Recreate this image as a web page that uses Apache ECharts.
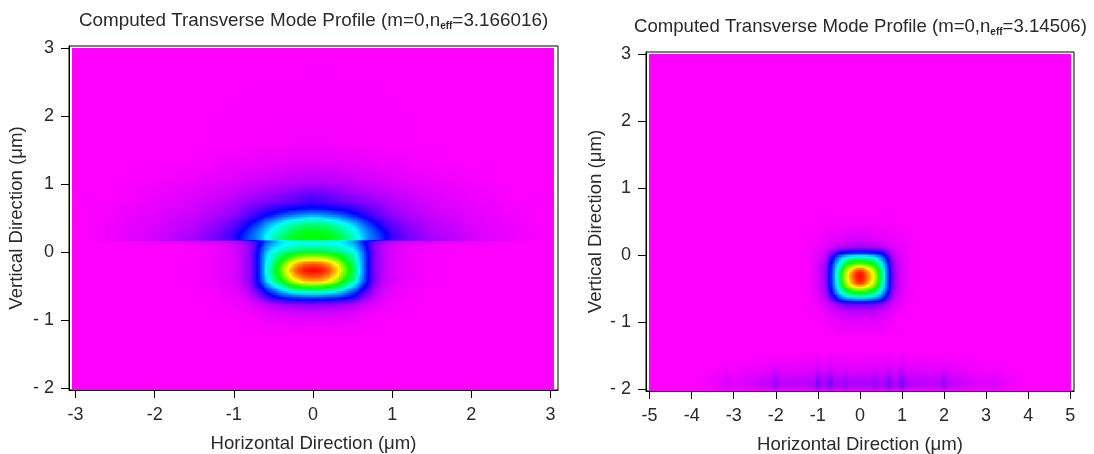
<!DOCTYPE html>
<html><head><meta charset="utf-8">
<style>html,body{margin:0;padding:0;background:#fff}#c{width:1094px;height:454px}</style>
<script src="https://cdn.jsdelivr.net/npm/echarts@6/dist/echarts.min.js"></script>
</head><body><div id="c"></div>
<script>
const leftXMajor=[-3,-2,-1,0,1,2,3];
const leftXMinor=[-2.8,-2.6,-2.4,-2.2,-1.8,-1.6,-1.4,-1.2,-0.8,-0.6,-0.4,-0.2,0.2,0.4,0.6,0.8,1.2,1.4,1.6,1.8,2.2,2.4,2.6,2.8];
const yMajor=[-2,-1,0,1,2,3];
const yMinor=[-1.8,-1.6,-1.4,-1.2,-0.8,-0.6,-0.4,-0.2,0.2,0.4,0.6,0.8,1.2,1.4,1.6,1.8,2.2,2.4,2.6,2.8];
const rightXMajor=[-5,-4,-3,-2,-1,0,1,2,3,4,5];
const rightXMinor=[-4.5,-3.5,-2.5,-1.5,-0.5,0.5,1.5,2.5,3.5,4.5];

const leftXs=[-3.04,-2.5,-2,-1.5,-1.2,-1,-.9,-.8,-.75,-.7,-.65,-.6,-.5,-.4,-.3,-.2,-.1,0,.1,.2,.3,.4,.5,.6,.65,.7,.75,.8,.9,1,1.2,1.5,2,2.5,3.04];
const leftYs=[3,1.6,1.4,1.2,1.05,.95,.85,.75,.65,.58,.52,.46,.4,.34,.28,.22,.18,.17,.16,.12,.05,-.02,-.1,-.18,-.26,-.34,-.42,-.5,-.58,-.66,-.72,-.8,-.9,-1.05,-1.3,-2.03];
const leftField=[
[0,0,0,0,0,0,0,0,0,0,0,0,0,0,0,0,0,0,0,0,0,0,0,0,0,0,0,0,0,0,0,0,0,0,0],
[0,0,0,0,.3,.4,.5,.5,.5,.5,.5,.6,.6,.7,.7,.8,.8,.8,.8,.8,.7,.7,.6,.6,.5,.5,.5,.5,.5,.4,.3,0,0,0,0],
[0,0,.2,.4,.7,.9,1,1.1,1.1,1.2,1.2,1.3,1.4,1.5,1.6,1.7,1.7,1.8,1.7,1.7,1.6,1.5,1.4,1.3,1.2,1.2,1.1,1.1,1,.9,.7,.4,.2,0,0],
[0,.1,.4,.9,1.4,1.8,2,2.2,2.3,2.4,2.5,2.7,2.9,3.1,3.3,3.5,3.6,3.7,3.6,3.5,3.3,3.1,2.9,2.7,2.5,2.4,2.3,2.2,2,1.8,1.4,.9,.4,.1,0],
[0,.2,.7,1.4,2.2,2.8,3.1,3.4,3.5,3.6,3.8,4,4.4,4.8,5.1,5.4,5.6,5.7,5.6,5.4,5.1,4.8,4.4,4,3.8,3.6,3.5,3.4,3.1,2.8,2.2,1.4,.7,.2,0],
[0,.3,1,2,3,3.7,4.2,4.6,4.8,5,5.2,5.5,6,6.7,7.3,7.9,8.4,8.6,8.4,7.9,7.3,6.7,6,5.5,5.2,5,4.8,4.6,4.2,3.7,3,2,1,.3,0],
[0,.4,1.2,2.4,3.6,4.7,5.3,5.9,6.2,6.5,6.8,7.2,8,9,9.9,10.8,11.5,12,11.5,10.8,9.9,9,8,7.2,6.8,6.5,6.2,5.9,5.3,4.7,3.6,2.4,1.2,.4,0],
[0,.6,1.5,3,4.5,6,7,8,8.3,8.7,9.2,9.7,10.5,11.5,12.5,13.5,14.5,15,14.5,13.5,12.5,11.5,10.5,9.7,9.2,8.7,8.3,8,7,6,4.5,3,1.5,.6,0],
[0,.8,2,3.6,5.4,7.3,9,11,11.5,12,13,14,16,17,18,19,20,20,20,19,18,17,16,14,13,12,11.5,11,9,7.3,5.4,3.6,2,.8,0],
[0,1,2.2,4,6,8,10,13,14,15,16,17,20,23,25,27,28,29,28,27,25,23,20,17,16,15,14,13,10,8,6,4,2.2,1,0],
[0,1,2.4,4.5,7,10,12,15,16,18,20,22,25,29,32,34,36,37,36,34,32,29,25,22,20,18,16,15,12,10,7,4.5,2.4,1,0],
[0,1.1,2.6,5,8,11,14,18,20,23,25,28,32,36,40,43,45,46,45,43,40,36,32,28,25,23,20,18,14,11,8,5,2.6,1.1,0],
[0,1.2,2.8,5.4,9,13,16,21,24,26,29,32,37,42,47,50,52,52,52,50,47,42,37,32,29,26,24,21,16,13,9,5.4,2.8,1.2,0],
[0,1.3,3,6,10,14,19,24,27,29,32,35,41,46,50,54,56,56,56,54,50,46,41,35,32,29,27,24,19,14,10,6,3,1.3,0],
[0,1.4,3.2,6.4,10,15,21,26,28,31,34,37,43,48,53,57,59,59,59,57,53,48,43,37,34,31,28,26,21,15,10,6.4,3.2,1.4,0],
[0,1.4,3.4,7,11,16,22,27,29,31,35,39,46,52,57,59,60,60,60,59,57,52,46,39,35,31,29,27,22,16,11,7,3.4,1.4,0],
[0,1.5,4,7,12,16,22,27,29,31,35,39,46,52,57,60,60,60,60,60,57,52,46,39,35,31,29,27,22,16,12,7,4,1.5,0],
[0,3,7,11,14,17,21,24,26,28,30,33,38,42,46,48,50,50,50,48,46,42,38,33,30,28,26,24,21,17,14,11,7,3,0],
[0,0,1,2,3,5,7,11,14,17,20,25,32,37,40,41,42,42,42,41,40,37,32,25,20,17,14,11,7,5,3,2,1,0,0],
[0,0,.2,1,2,4,6,9,12,17,22,28,34,38,41,42,42,42,42,42,41,38,34,28,22,17,12,9,6,4,2,1,.2,0,0],
[0,0,0,.5,1.4,3,5,9,13,19,26,31,39,43,46,48,50,50,50,48,46,43,39,31,26,19,13,9,5,3,1.4,.5,0,0,0],
[0,0,0,.4,1.3,3,5,9,14,20,28,34,44,51,56,60,62,63,62,60,56,51,44,34,28,20,14,9,5,3,1.3,.4,0,0,0],
[0,0,0,.4,1.3,3,5,9,14,20,29,36,48,58,68,75,79,80,79,75,68,58,48,36,29,20,14,9,5,3,1.3,.4,0,0,0],
[0,0,0,.4,1.3,3,5,9,14,20,29,37,51,64,78,87,92,93,92,87,78,64,51,37,29,20,14,9,5,3,1.3,.4,0,0,0],
[0,0,0,.4,1.3,3,5,9,14,20,29,38,54,68,84,94,99,100,99,94,84,68,54,38,29,20,14,9,5,3,1.3,.4,0,0,0],
[0,0,0,.4,1.3,3,5,9,14,20,29,37,52,65,80,90,95,96,95,90,80,65,52,37,29,20,14,9,5,3,1.3,.4,0,0,0],
[0,0,0,.4,1.3,3,5,9,14,20,27,34,47,57,70,79,85,86,85,79,70,57,47,34,27,20,14,9,5,3,1.3,.4,0,0,0],
[0,0,0,.3,1.1,2.4,4,8,12,17,22,28,38,47,57,63,66,67,66,63,57,47,38,28,22,17,12,8,4,2.4,1.1,.3,0,0,0],
[0,0,0,.2,.8,1.8,3,6,9,12,16,20,27,34,40,44,45,46,45,44,40,34,27,20,16,12,9,6,3,1.8,.8,.2,0,0,0],
[0,0,0,.1,.6,1.3,2.2,4,6,8,10,13,18,22,25,26,27,27,27,26,25,22,18,13,10,8,6,4,2.2,1.3,.6,.1,0,0,0],
[0,0,0,.1,.5,1,1.7,3,4,5,6,8,11,13,14,15,15,16,15,15,14,13,11,8,6,5,4,3,1.7,1,.5,.1,0,0,0],
[0,0,0,0,.4,.8,1.2,1.8,2.2,2.7,3.2,4,5,6,7,7.5,8,8,8,7.5,7,6,5,4,3.2,2.7,2.2,1.8,1.2,.8,.4,0,0,0,0],
[0,0,0,0,.2,.4,.6,.9,1.1,1.3,1.6,2,2.4,2.8,3.1,3.3,3.4,3.4,3.4,3.3,3.1,2.8,2.4,2,1.6,1.3,1.1,.9,.6,.4,.2,0,0,0,0],
[0,0,0,0,0,.1,.2,.3,.4,.5,.6,.7,.9,1,1.1,1.2,1.2,1.2,1.2,1.2,1.1,1,.9,.7,.6,.5,.4,.3,.2,.1,0,0,0,0,0],
[0,0,0,0,0,0,0,0,0,0,0,0,0,0,0,0,0,0,0,0,0,0,0,0,0,0,0,0,0,0,0,0,0,0,0],
[0,0,0,0,0,0,0,0,0,0,0,0,0,0,0,0,0,0,0,0,0,0,0,0,0,0,0,0,0,0,0,0,0,0,0]
];

const rightBackXs=[-5.02,5.03];
const rightBackYs=[3.01,-2.03];
const rightBack=[[0,0],[0,0]];

const rightXs=[-1.5,-1.2,-1,-.9,-.8,-.75,-.7,-.65,-.6,-.5,-.4,-.3,-.2,-.1,0,.1,.2,.3,.4,.5,.6,.65,.7,.75,.8,.9,1,1.2,1.5];
const rightYs=[.7,.4,.25,.15,.1,.05,0,-.05,-.1,-.15,-.2,-.25,-.32,-.4,-.45,-.5,-.55,-.6,-.65,-.7,-.75,-.85,-1,-1.3];
const rightField=[
[0,0,0,0,0,0,0,0,0,0,0,0,0,0,0,0,0,0,0,0,0,0,0,0,0,0,0,0,0],
[0,.2,.4,.5,.6,.6,.7,.7,.8,.9,1,1,1,1,1,1,1,1,1,.9,.8,.7,.7,.6,.6,.5,.4,.2,0],
[0,.4,.8,1,1.2,1.3,1.4,1.5,1.6,1.9,2.2,2.5,2.8,3,3,3,2.8,2.5,2.2,1.9,1.6,1.5,1.4,1.3,1.2,1,.8,.4,0],
[0,.6,1.2,1.6,2.1,2.4,2.8,3.1,3.4,4,4.7,5.2,5.7,6,6,6,5.7,5.2,4.7,4,3.4,3.1,2.8,2.4,2.1,1.6,1.2,.6,0],
[0,.8,1.5,2.2,3,3.6,4.4,5,6,7,8,9,9,9,9,9,9,9,8,7,6,5,4.4,3.6,3,2.2,1.5,.8,0],
[0,.8,1.8,3,4,5,7,9,12,16,17,18,19,19,19,19,19,18,17,16,12,9,7,5,4,3,1.8,.8,0],
[0,.8,2,3,5,7,11,15,20,26,30,33,35,36,36,36,35,33,30,26,20,15,11,7,5,3,2,.8,0],
[0,.8,2,4,6,9,15,20,25,32,38,43,46,47,47,47,46,43,38,32,25,20,15,9,6,4,2,.8,0],
[0,.8,2.6,4,7,11,18,23,29,38,46,54,58,60,61,60,58,54,46,38,29,23,18,11,7,4,2.6,.8,0],
[0,.8,2.8,5,8,12,20,26,32,43,54,63,69,73,74,73,69,63,54,43,32,26,20,12,8,5,2.8,.8,0],
[0,.8,3,5,9,13,21,27,34,47,60,71,79,85,87,85,79,71,60,47,34,27,21,13,9,5,3,.8,0],
[0,.8,3,5,9,13,21,28,35,50,66,78,87,95,98,95,87,78,66,50,35,28,21,13,9,5,3,.8,0],
[0,.8,3,5,9,14,22,28,36,52,68,81,90,97,100,97,90,81,68,52,36,28,22,14,9,5,3,.8,0],
[0,.8,3,5,9,13,21,28,35,50,66,78,87,95,98,95,87,78,66,50,35,28,21,13,9,5,3,.8,0],
[0,.8,3,5,9,13,21,27,34,48,62,73,81,87,89,87,81,73,62,48,34,27,21,13,9,5,3,.8,0],
[0,.8,2.8,5,8,12,20,26,32,44,56,65,72,76,78,76,72,65,56,44,32,26,20,12,8,5,2.8,.8,0],
[0,.8,2.6,4,7,11,18,23,29,38,47,55,60,62,63,62,60,55,47,38,29,23,18,11,7,4,2.6,.8,0],
[0,.7,2.2,4,6,9,14,19,24,32,38,43,46,48,49,48,46,43,38,32,24,19,14,9,6,4,2.2,.7,0],
[0,.6,2,3,5,7,10,13,17,24,28,30,32,33,33,33,32,30,28,24,17,13,10,7,5,3,2,.6,0],
[0,.5,1.5,2.5,3.5,4.5,6,8,10,14,16,17,18,18,18,18,18,17,16,14,10,8,6,4.5,3.5,2.5,1.5,.5,0],
[0,.4,1.1,1.8,2.7,3.4,4.2,5,6,8,9,10,10,10,10,10,10,10,9,8,6,5,4.2,3.4,2.7,1.8,1.1,.4,0],
[0,.2,.6,1,1.6,2,2.4,2.8,3.2,4,4.4,4.8,5,5,5,5,5,4.8,4.4,4,3.2,2.8,2.4,2,1.6,1,.6,.2,0],
[0,0,.2,.4,.6,.8,1,1.1,1.3,1.6,1.8,2,2,2,2,2,2,2,1.8,1.6,1.3,1.1,1,.8,.6,.4,.2,0,0],
[0,0,0,0,0,0,0,0,0,0,0,0,0,0,0,0,0,0,0,0,0,0,0,0,0,0,0,0,0]
];

const floorXs=[-4,-3.4,-3.2,-3,-2.6,-2.12,-2,-1.88,-1.5,-1.12,-1,-.88,-.8,-.7,-.6,-.45,-.35,-.25,0,.25,.35,.45,.6,.7,.8,.88,1,1.12,1.5,1.88,2,2.12,2.6,3,3.2,3.4,4];
const floorYs=[-1.4,-1.55,-1.7,-1.8,-1.93,-1.98,-2.03];
const floorField=[
[0,0,0,0,0,0,0,0,0,0,0,0,0,0,0,0,0,0,0,0,0,0,0,0,0,0,0,0,0,0,0,0,0,0,0,0,0],
[0,.2,.4,.3,.5,.8,1,.8,.9,1,1.6,1.1,1.1,1.6,1.1,1.1,1.4,1.1,1.1,1.1,1.4,1.1,1.1,1.6,1.1,1.1,1.6,1,.9,.8,1,.8,.5,.3,.4,.2,0],
[0,.6,1,.8,1.3,2,3,2,2.2,2.4,4,2.6,2.6,4,2.6,2.6,3.2,2.6,2.6,2.6,3.2,2.6,2.6,4,2.6,2.6,4,2.4,2.2,2,3,2,1.3,.8,1,.6,0],
[0,1,2,1.4,2.2,3.5,5,3.4,3.6,4,7,4.2,4.2,7,4.2,4.4,5.5,4.2,4.4,4.2,5.5,4.4,4.2,7,4.2,4.2,7,4,3.6,3.4,5,3.5,2.2,1.4,2,1,0],
[0,1.6,3.4,2.4,3.4,5,9,5.2,5.4,6,11.5,6.4,6.6,11.5,6.6,6.8,8.8,6.6,7,6.6,8.8,6.8,6.6,11.5,6.6,6.4,11.5,6,5.4,5.2,9,5,3.4,2.4,3.4,1.6,0],
[0,1.2,2.4,1.8,2.6,4,7,4,4.2,4.6,9,5,5,9,5,5.2,7,5,5.4,5,7,5.2,5,9,5,5,9,4.6,4.2,4,7,4,2.6,1.8,2.4,1.2,0],
[0,.4,.8,.6,.8,1,2,1,1.1,1.2,2.6,1.3,1.3,2.6,1.3,1.4,2,1.3,1.4,1.3,2,1.4,1.3,2.6,1.3,1.3,2.6,1.2,1.1,1,2,1,.8,.6,.8,.4,0]
];

function cells(xs,ys,field){
  const out=[];
  for(let r=0;r<ys.length-1;r++)for(let c=0;c<xs.length-1;c++){
    out.push([xs[c],ys[r],xs[c+1],ys[r+1],field[r][c],field[r][c+1],field[r+1][c],field[r+1][c+1]]);
  }
  return out;
}
function shade(v){return 'hsl('+(300*(1-v/100)).toFixed(1)+',100%,50%)';}
function renderCell(p,api){
  const A=api.coord([api.value(0),api.value(1)]),B=api.coord([api.value(2),api.value(3)]);
  const x0=Math.round(A[0]),y0=Math.round(A[1]),x1=Math.round(B[0]),y1=Math.round(B[1]);
  const w=x1-x0,h=y1-y0;
  if(w<=0||h<=0)return null;
  const a=api.value(4),b=api.value(5),c=api.value(6),d=api.value(7);
  if(a===b&&b===c&&c===d)return {type:'rect',silent:true,shape:{x:x0,y:y0,width:w,height:h},style:{fill:shade(a)}};
  const kids=[];const nx=Math.max(1,Math.ceil(w/2)),ny=Math.max(1,Math.ceil(h/2));
  for(let j=0;j<ny;j++){const ty=(j+.5)/ny;
    const py0=y0+Math.round(j*h/ny),py1=y0+Math.round((j+1)*h/ny);
    for(let i=0;i<nx;i++){const tx=(i+.5)/nx;
      const px0=x0+Math.round(i*w/nx),px1=x0+Math.round((i+1)*w/nx);
      const v=(a*(1-tx)+b*tx)*(1-ty)+(c*(1-tx)+d*tx)*ty;
      kids.push({type:'rect',silent:true,shape:{x:px0,y:py0,width:px1-px0,height:py1-py0},style:{fill:shade(v)}});
    }}
  return {type:'group',children:kids};
}
function field(g,data){return {type:'custom',xAxisIndex:g*2,yAxisIndex:g*2,coordinateSystem:'cartesian2d',animation:false,silent:true,clip:false,renderItem:renderCell,encode:{x:[0,2],y:[1,3]},data:data};}

const FONT='"Liberation Sans",Arial,sans-serif',INK='#2a2a2a',NAME=18.6,TICK=18;
function xAx(g,min,max,major,minor,name){return [
 {gridIndex:g,type:'value',position:'bottom',min,max,name,nameLocation:'middle',nameGap:44,nameTextStyle:{fontFamily:FONT,fontSize:NAME,color:INK},
  axisLine:{show:true,onZero:false,lineStyle:{color:'#000'}},splitLine:{show:false},
  axisTick:{show:true,length:8,customValues:major,lineStyle:{color:'#000'}},
  axisLabel:{show:true,margin:16,customValues:major,fontFamily:FONT,fontSize:TICK,color:INK,formatter:v=>String(v)}},
 {gridIndex:g,type:'value',position:'bottom',min,max,axisLine:{show:false},splitLine:{show:false},
  axisTick:{show:true,length:4,customValues:minor,lineStyle:{color:'#000'}},axisLabel:{show:false}}
];}
function yAx(g,min,max,major,minor,name,gap){return [
 {gridIndex:g,type:'value',position:'left',min,max,name,nameLocation:'middle',nameGap:gap,nameTextStyle:{fontFamily:FONT,fontSize:NAME,color:INK},
  axisLine:{show:true,onZero:false,lineStyle:{color:'#000'}},splitLine:{show:false},
  axisTick:{show:true,length:8,customValues:major,lineStyle:{color:'#000'}},
  axisLabel:{show:true,margin:15,customValues:major,fontFamily:FONT,fontSize:TICK,color:INK,formatter:v=>v<0?'- '+(-v):String(v)}},
 {gridIndex:g,type:'value',position:'left',min,max,axisLine:{show:false},splitLine:{show:false},
  axisTick:{show:true,length:4,customValues:minor,lineStyle:{color:'#000'}},axisLabel:{show:false}}
];}
const gridBox=(left,top,width,height)=>({left,top,width,height,show:true,backgroundColor:'#fff',borderColor:'#000',borderWidth:1,containLabel:false,outerBoundsMode:'none'});
const titleOf=(left,top,size,a,b)=>({left,top,text:'{a|'+a+'}{s|eff}{a|'+b+'}',textStyle:{fontWeight:'normal',rich:{
  a:{fontFamily:FONT,fontSize:size,fontWeight:'normal',color:INK,height:18,lineHeight:18,verticalAlign:'middle'},
  s:{fontFamily:FONT,fontSize:10,fontWeight:'bold',color:INK,height:8,lineHeight:8,padding:[15,0,0,0],verticalAlign:'bottom'}}}});

const chart=echarts.init(document.getElementById('c'),null,{renderer:'canvas'});
chart.setOption({
  animation:false,backgroundColor:'#fff',
  title:[titleOf(74,7,18.85,'Computed Transverse Mode Profile (m=0,n','=3.166016)'),titleOf(629,13,18.6,'Computed Transverse Mode Profile (m=0,n','=3.14506)')],
  grid:[gridBox(69,46,489,344),gridBox(646,52,428,339)],
  xAxis:[...xAx(0,-3.082,3.095,leftXMajor,leftXMinor,'Horizontal Direction (μm)'),...xAx(1,-5.086,5.09,rightXMajor,rightXMinor,'Horizontal Direction (μm)')],
  yAxis:[...yAx(0,-2.03,3.03,yMajor,yMinor,'Vertical Direction (μm)',43),...yAx(1,-2.033,3.037,yMajor,yMinor,'Vertical Direction (μm)',41)],
  series:[
    field(0,cells(leftXs,leftYs,leftField)),
    field(1,cells(rightBackXs,rightBackYs,rightBack)),
    field(1,cells(rightXs,rightYs,rightField)),
    field(1,cells(floorXs,floorYs,floorField))
  ]
});
</script></body></html>
